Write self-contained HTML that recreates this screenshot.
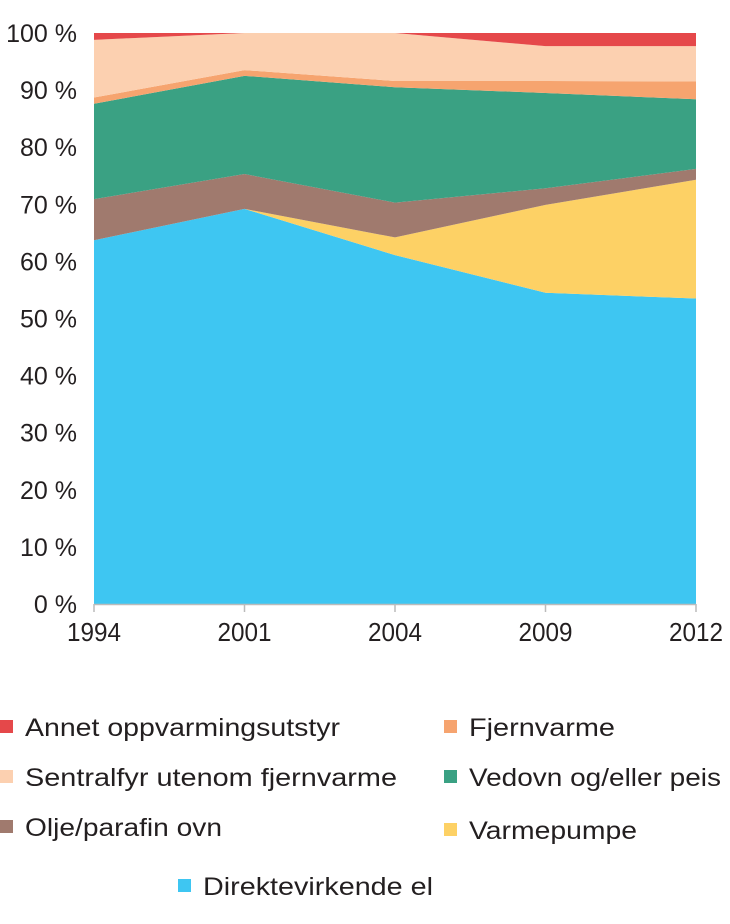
<!DOCTYPE html>
<html><head><meta charset="utf-8"><style>
body{margin:0;background:#fff;width:730px;height:919px;overflow:hidden;font-family:"Liberation Sans",sans-serif}
svg text{font-family:"Liberation Sans",sans-serif;fill:#231f20}
</style></head><body>
<svg id="chart" width="730" height="919" xmlns="http://www.w3.org/2000/svg"></svg>
<script>
const categories=["1994","2001","2004","2009","2012"];
const direkte=[63.7,69.2,61.1,54.5,53.5];
const varmepumpe=[0,0,3.1,15.4,20.8];
const olje=[7.2,6.1,6.1,2.9,1.9];
const vedovn=[16.7,17.2,20.2,16.7,12.2];
const fjernvarme=[1.1,1.0,1.1,2.1,3.1];
const sentralfyr=[10.1,6.5,8.4,6.1,6.2];
const annet=[1.2,0,0,2.3,2.3];
const yTicks=[0,10,20,30,40,50,60,70,80,90,100];
const seriesNames=["Direktevirkende el","Varmepumpe","Olje/parafin ovn","Vedovn og/eller peis","Fjernvarme","Sentralfyr utenom fjernvarme","Annet oppvarmingsutstyr"];
const seriesData=[direkte,varmepumpe,olje,vedovn,fjernvarme,sentralfyr,annet];
const colors=["#3ec6f2","#fdd165","#a07a6e","#3aa183","#f6a46f","#fcd0b0","#e5484a"];
const keys=["direkte","varmepumpe","olje","vedovn","fjernvarme","sentralfyr","annet"];
const svg=document.getElementById('chart');const NS="http://www.w3.org/2000/svg";
const x0=94,x1=696,yB=604,yT=33;
const xs=i=>x0+(x1-x0)*i/(categories.length-1);
const ys=v=>yB-(yB-yT)*v/100;
function mk(t,a){const e=document.createElementNS(NS,t);for(const k in a)e.setAttribute(k,a[k]);svg.appendChild(e);return e;}
let base=categories.map(()=>0);
seriesData.forEach((s,si)=>{
  const top=base.map((b,i)=>b+s[i]);
  let d="M"+categories.map((c,i)=>xs(i)+","+ys(top[i])).join(" L");
  for(let i=categories.length-1;i>=0;i--)d+=" L"+xs(i)+","+ys(base[i]);
  const p=mk('path',{d:d+"Z",fill:colors[si]});
  
  
  base=top;
});
const ax=mk('line',{x1:x0,x2:x1,y1:yB+0.5,y2:yB+0.5,stroke:'#bbb','stroke-width':1.5});


categories.forEach((c,i)=>{
  const tk=mk('line',{x1:xs(i),x2:xs(i),y1:yB,y2:yB+8,stroke:'#bbb','stroke-width':1.5});
  
  
  const t=mk('text',{x:xs(i),y:641,'text-anchor':'middle','font-size':26,textLength:54,lengthAdjust:'spacingAndGlyphs'});t.textContent=c;
  
  
});
yTicks.forEach(v=>{
  const t=mk('text',{x:77,y:ys(v)+9,'text-anchor':'end','font-size':25});t.textContent=v+" %";
  
  
});
const legend=[[6,0,727,315],[4,444,727,146],[5,0,777,372],[3,444,777,252],[2,0,827,197],[1,444,830,168],[0,178,886,230]];
legend.forEach(([si,x,y,w])=>{
  const r=mk('rect',{x:x,y:y-7,width:13,height:13,fill:colors[si]});
  
  
  const t=mk('text',{x:x+25,y:y+9,'font-size':25,textLength:w,lengthAdjust:'spacingAndGlyphs'});t.textContent=seriesNames[si];
  
  
});
</script>
</body></html>
